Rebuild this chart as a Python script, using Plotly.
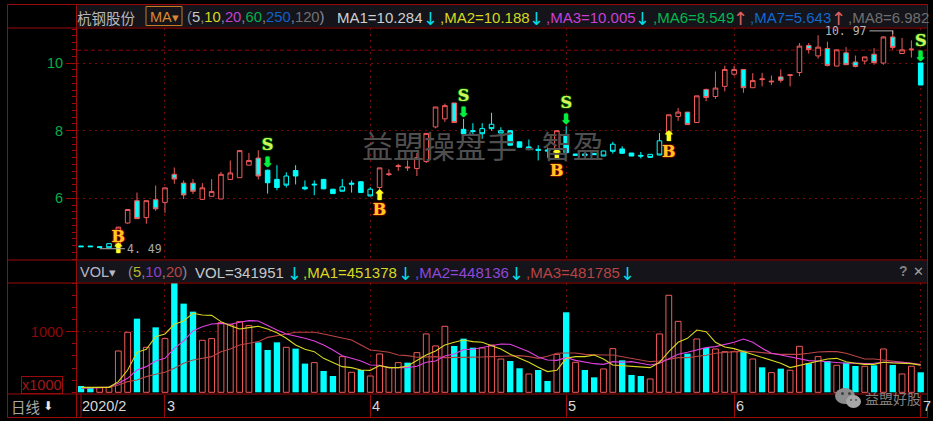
import plotly.graph_objects as go

# ---------- data ----------
body_top = [4.59,4.59,4.57,4.66,5.15,5.67,5.93,5.93,5.96,6.31,6.71,6.45,6.45,6.31,6.20,6.71,6.75,7.41,7.12,7.19,
            6.83,6.56,6.66,6.82,6.33,6.42,6.56,6.27,6.34,6.45,6.49,6.27,6.90,6.72,6.96,6.92,7.20,7.92,8.70,8.74,
            8.82,8.04,8.00,8.06,8.19,8.00,8.00,7.67,7.52,7.45,7.43,8.00,7.86,7.31,7.31,7.33,7.40,7.60,7.46,7.34,
            7.27,7.30,7.70,8.47,8.55,8.55,9.03,9.22,9.26,9.81,9.81,9.81,9.48,9.53,9.46,9.59,9.65,10.50,10.52,10.47,
            10.43,10.39,10.30,10.03,10.18,10.26,10.77,10.77,10.39,10.41,10.00]
body_bot = [4.57,4.57,4.55,4.54,4.62,5.27,5.40,5.43,5.69,5.88,6.57,6.10,6.21,5.97,6.06,5.98,6.56,6.61,6.98,6.66,
            6.46,6.32,6.39,6.66,6.28,6.40,6.28,6.14,6.21,6.42,6.17,6.07,6.32,6.70,6.94,6.90,6.88,7.09,8.11,8.35,
            8.24,7.91,7.98,7.91,8.06,7.93,7.57,7.51,7.49,7.42,7.40,7.42,7.35,7.27,7.27,7.29,7.25,7.39,7.33,7.25,
            7.25,7.21,7.28,7.94,8.42,8.18,8.24,8.98,9.01,9.31,9.67,9.27,9.27,9.51,9.44,9.49,9.63,9.72,10.40,10.21,
            9.93,9.91,9.95,9.90,10.06,10.01,10.00,10.46,10.28,10.39,9.35]
high_p = [4.59,4.59,4.57,4.66,5.15,5.67,6.17,5.93,6.38,6.31,6.91,6.53,6.57,6.45,6.57,6.78,7.12,7.41,7.34,7.42,
          6.85,6.98,6.77,6.98,6.53,6.53,6.57,6.27,6.57,6.53,6.51,6.33,6.90,6.86,7.02,7.12,7.34,7.92,8.70,8.80,
          8.82,8.35,8.22,8.22,8.53,8.10,8.00,7.67,7.74,7.57,7.50,8.00,8.13,7.31,7.31,7.33,7.40,7.67,7.54,7.34,
          7.37,7.30,7.93,8.47,8.67,8.55,9.03,9.24,9.75,9.92,9.91,9.81,9.70,9.71,9.63,9.81,9.65,10.59,10.59,10.82,
          10.63,10.39,10.47,10.22,10.18,10.44,10.79,10.97,10.74,10.67,10.00]
low_p = [4.57,4.57,4.55,4.54,4.49,5.25,5.40,5.25,5.63,5.57,6.43,5.98,6.13,5.95,6.06,5.98,6.54,6.61,6.98,6.56,
         6.14,6.24,6.32,6.41,6.24,6.09,6.27,6.14,6.21,6.17,6.17,6.07,6.24,6.66,6.81,6.81,6.66,7.04,8.07,8.26,
         8.24,7.91,7.90,7.76,8.00,7.93,7.57,7.51,7.42,7.12,7.20,7.42,7.30,7.27,7.27,7.29,7.25,7.32,7.33,7.25,
         7.18,7.21,7.28,7.94,8.29,8.18,8.24,8.87,8.94,9.16,9.62,9.12,9.27,9.31,9.35,9.42,9.31,9.61,10.28,10.13,
         9.90,9.91,9.95,9.87,9.96,9.95,9.95,10.39,10.28,10.16,9.35]
# R red hollow, C cyan filled, H cyan hollow, M red outline cyan fill
candle_kind = list("CCCHRRMRMRMMMRRRRRRM" "CCHCCCCCHCCHRRRRRRRR" "MCCHHHCCCCCRCCCCHHCC"
                   "CHHRRMRMRRRMRRRMRRMR" "MRMMRMRMRRC")

volume = [104,82,82,82,681,989,1214,742,1071,885,1802,1462,1330,857,885,1148,1115,1165,1099,824,
          698,824,742,720,473,489,352,269,588,330,368,269,632,412,489,489,654,962,764,1088,
          764,885,736,731,780,549,516,396,302,368,187,626,1319,495,368,247,385,720,527,286,
          269,220,962,1599,1170,637,879,731,714,670,670,687,549,412,324,390,363,758,478,588,
          516,445,489,434,429,445,714,451,302,429,330]
vol_kind = list("CCRRRRCRCRCCCRRRRRRC" "CCRCCRCCRRCRRRRCRRRR" "CCCRRRCCRCCRCRCCRRCC"
                "CRRRRCRCRRRCRCRCRRCR" "CRCCRCRCRRC")
vol_ma5 = [82,82,82,82,176,368,659,709,918,962,1121,1176,1302,1275,1269,1165,1099,1044,1066,1088,
           1044,983,890,780,709,670,560,495,423,407,368,362,440,407,407,434,527,615,681,780,
           824,863,835,824,769,714,626,560,495,412,341,362,560,588,588,615,549,450,440,418,
           412,407,495,670,824,890,1027,1000,824,747,720,670,626,582,533,478,407,445,478,516,
           549,560,505,478,461,461,495,484,472,472,445]
vol_ma10 = [71,71,77,88,148,231,368,423,516,560,725,846,1011,1082,1126,1137,1121,1154,1181,1176,
            1099,1027,962,929,890,846,780,698,604,560,516,450,445,407,407,407,429,495,516,599,
            632,703,709,742,769,797,791,736,670,582,533,527,571,527,500,472,461,505,495,505,
            478,450,478,549,626,659,698,736,753,791,824,879,824,725,643,615,588,560,522,516,
            505,495,478,484,472,478,495,495,495,478,450]
vol_ma20 = [71,71,77,82,121,176,203,258,297,330,396,478,533,560,588,670,714,780,808,835,
            906,929,962,989,995,989,962,929,890,863,780,698,681,659,615,604,577,577,588,571,
            571,571,577,582,588,593,604,604,588,560,593,643,648,648,626,615,615,615,588,555,
            533,505,516,549,571,571,588,610,643,659,670,670,670,654,637,626,626,626,643,665,
            670,670,643,599,549,549,533,516,505,489,461]

month_idx = [9, 31, 52, 70, 90]
month_labels = ["3", "4", "5", "6", "7"]
first_label = "2020/2"
price_ticks = [10, 8, 6]
vol_ticks = [1000]
ref_price = 10.38

sell_idx = [20, 41, 52, 90]
sell_letter_y = [7.54, 8.99, 8.78, 10.62]
sell_arrow_y = [7.03, 8.50, 8.29, 10.15]
buy_idx = [4, 32, 51, 63]
buy_letter_y = [4.83, 5.62, 6.78, 7.34]
buy_arrow_y = [4.48, 6.06, 7.27, 7.81]

# ---------- style ----------
W, H = 933, 421
RED = "#f05a5a"
CYAN = "#00ffff"
FRAME = "#9a0a0a"
GRID = "#8a0808"
SANS = "Liberation Sans, Arial, sans-serif"
def X(px): return px / W
def Y(py): return 1 - py / H

fig = go.Figure()
styles = {
    "R": (RED, "#000000"),
    "C": (CYAN, CYAN),
    "H": (CYAN, "#000000"),
    "M": (RED, CYAN),
}
for k, (ln, fl) in styles.items():
    idx = [i for i, c in enumerate(candle_kind) if c == k]
    side = dict(line=dict(color=ln, width=1), fillcolor=fl)
    up = k == "R"
    fig.add_trace(go.Candlestick(
        x=idx,
        open=[(body_bot[i] if up else body_top[i]) for i in idx],
        close=[(body_top[i] if up else body_bot[i]) for i in idx],
        high=[high_p[i] for i in idx],
        low=[low_p[i] for i in idx],
        increasing=side, decreasing=side, whiskerwidth=0,
        xaxis="x", yaxis="y", showlegend=False, hoverinfo="skip"))

# volume
idx = [i for i, c in enumerate(vol_kind) if c == "R"]
fig.add_trace(go.Bar(x=idx, y=[volume[i] for i in idx], width=0.62, xaxis="x2", yaxis="y2",
                     marker=dict(color="#000000", line=dict(color=RED, width=1)), hoverinfo="skip"))
idx = [i for i, c in enumerate(vol_kind) if c == "C"]
fig.add_trace(go.Bar(x=idx, y=[volume[i] for i in idx], width=0.68, xaxis="x2", yaxis="y2",
                     marker=dict(color=CYAN, line=dict(width=0)), hoverinfo="skip"))
xs = list(range(len(volume)))
for series, col in [(vol_ma20, "#b84444"), (vol_ma10, "#e040e0"), (vol_ma5, "#d8d820")]:
    fig.add_trace(go.Scatter(x=xs, y=series, mode="lines", xaxis="x2", yaxis="y2",
                             line=dict(color=col, width=1.1), hoverinfo="skip"))

# buy / sell marks
fig.add_trace(go.Scatter(x=sell_idx, y=sell_letter_y, mode="text", text=["<b>S</b>"] * 4, xaxis="x", yaxis="y",
                         textfont=dict(family="DejaVu Serif", size=16, color="#d8f060",
                                       shadow="0 0 1px #00d000, 0 0 1px #00d000, 0 0 2px #00a000"),
                         hoverinfo="skip"))
fig.add_trace(go.Scatter(x=sell_idx, y=sell_arrow_y, mode="text", text=["<b>⬇</b>"] * 4, xaxis="x", yaxis="y",
                         textfont=dict(family="DejaVu Sans", size=14, color="#00f040",
                                       shadow="0 0 1px #00f040, 0 0 1px #00f040"), hoverinfo="skip"))
fig.add_trace(go.Scatter(x=buy_idx, y=buy_letter_y, mode="text", text=["<b>B</b>"] * 4, xaxis="x", yaxis="y",
                         textfont=dict(family="DejaVu Serif", size=16, color="#ffc820",
                                       shadow="0 0 1px #ff2000, 0 0 1px #ff2000, 0 0 2px #ff2000"),
                         hoverinfo="skip"))
fig.add_trace(go.Scatter(x=buy_idx, y=buy_arrow_y, mode="text", text=["<b>⬆</b>"] * 4, xaxis="x", yaxis="y",
                         textfont=dict(family="DejaVu Sans", size=14, color="#ffff20",
                                       shadow="0 0 1px #ffff20, 0 0 1px #ffff20"), hoverinfo="skip"))

# low / high leaders
low_i = low_p.index(min(low_p))
high_i = high_p.index(max(high_p))
fig.add_trace(go.Scatter(x=[low_i - 2, low_i + 0.7], y=[min(low_p) + 0.02] * 2, mode="lines", xaxis="x", yaxis="y",
                         line=dict(color="#b0b0b0", width=1), hoverinfo="skip"))
fig.add_trace(go.Scatter(x=[high_i - 2.5, high_i, high_i], y=[max(high_p) - 0.02, max(high_p) - 0.02, max(high_p) - 0.12],
                         mode="lines", xaxis="x", yaxis="y", line=dict(color="#b0b0b0", width=1), hoverinfo="skip"))

ann = []
def txt(px, py, s, color="#c8c8c8", size=14.5, anchor="left", family=SANS):
    ann.append(dict(x=X(px - 2 if anchor == "left" else px), y=Y(py), xref="paper", yref="paper", text=s,
                    showarrow=False, xanchor=anchor, yanchor="middle",
                    font=dict(family=family, size=size, color=color)))

ann.append(dict(x=low_i + 0.7, y=min(low_p) + 0.02, xref="x", yref="y", text=f"{min(low_p):.2f}".replace(".", ". "),
                showarrow=False, xanchor="left", yanchor="middle",
                font=dict(family="DejaVu Sans Mono", size=11.5, color="#a8a8a8")))
ann.append(dict(x=high_i - 2.5, y=max(high_p) - 0.02, xref="x", yref="y", text=f"{max(high_p):.2f}".replace(".", ". "),
                showarrow=False, xanchor="right", yanchor="middle",
                font=dict(family="DejaVu Sans Mono", size=11.5, color="#b8b8b8")))

# header: title line
def colored(parts):
    return "".join(f'<span style="color:{c}">{t}</span>' for t, c in parts)
txt(77, 17, "杭钢股份", "#b8b8b8", 14.5, family="Noto Sans CJK SC")
txt(150, 17, "MA", "#d98a30", 14.5)
txt(172, 17, "▾", "#d98a30", 13, family="DejaVu Sans")
txt(187, 17, colored([("(", "#8a8a9a"), ("5", "#c8c8c8"), (",", "#8a8a9a"), ("10", "#d8d820"), (",", "#8a8a9a"),
                      ("20", "#c040d0"), (",", "#8a8a9a"), ("60", "#00b050"), (",", "#8a8a9a"), ("250", "#1060c8"),
                      (",", "#8a8a9a"), ("120", "#707070"), (")", "#8a8a9a")]), size=14.8)
txt(337, 17, "MA1=10.284", "#d0d0d0", 15)
txt(440, 17, ",MA2=10.188", "#d8d820", 15)
txt(546, 17, ",MA3=10.005", "#c840d8", 15)
txt(653, 17, ",MA6=8.549", "#00b850", 15)
txt(750, 17, ",MA7=5.643", "#1068d0", 15)
txt(848, 17, ",MA8=6.982", "#707070", 15)
for px, col, glyph in [(430, "#00d8e8", "↓"), (536, "#00d8e8", "↓"), (642, "#00d8e8", "↓"),
                       (740, "#e06060", "↑"), (838, "#e06060", "↑")]:
    txt(px, 18, glyph, col, 18, "center", "DejaVu Sans")

# header: volume line
txt(80, 272, "VOL", "#b8b8c8", 14.5)
txt(109, 272, "▾", "#b8b8c8", 13, family="DejaVu Sans")
txt(128, 272, colored([("(", "#8a8a9a"), ("5", "#b8b830"), (",", "#8a8a9a"), ("10", "#9040c8"), (",", "#8a8a9a"),
                       ("20", "#b84444"), (")", "#8a8a9a")]), size=14.8)
txt(195, 272, "VOL=341951", "#c8c8c8", 15)
txt(303, 272, ",MA1=451378", "#d8d820", 15)
txt(415, 272, ",MA2=448136", "#9048d8", 15)
txt(526, 272, ",MA3=481785", "#b84444", 15)
for px in (294, 405, 516, 627):
    txt(px, 273, "↓", "#00d8e8", 18, "center", "DejaVu Sans")
txt(903, 271, "<b>?</b>", "#808080", 14, "center")
txt(918, 271, "<b>✕</b>", "#a0a0a0", 13, "center", "DejaVu Sans")

# bottom strip
txt(11, 406, "日线", "#a8a8a8", 14.5, family="Noto Sans CJK SC")
txt(48, 406, "⬇", "#e8e8e8", 12, "center", "DejaVu Sans")
txt(82, 406, first_label, "#d8d8d8", 14.5)
for i, lab in zip(month_idx, month_labels):
    ann.append(dict(x=i, y=Y(406), xref="x2", yref="paper", text=lab, showarrow=False, xanchor="left",
                    yanchor="middle", xshift=0, font=dict(family=SANS, size=14.5, color="#d8d8d8")))

# x1000 box
ann.append(dict(x=X(41.5), y=Y(385), xref="paper", yref="paper", text="x1000", showarrow=False, xanchor="center",
                yanchor="middle", bgcolor="#000000", bordercolor=FRAME, borderwidth=1, borderpad=0,
                font=dict(family=SANS, size=14.5, color="#a01818")))

# watermarks
txt(362, 144, "益盟操盘手 - 智盈", "#4e4e4e", 31, family="Noto Sans CJK SC")
txt(865, 398, "益盟好股", "#808080", 14, family="Noto Sans CJK SC")

shapes = []
def rect(x0, y0, x1, y1, **kw):
    shapes.append(dict(type="rect", xref="paper", yref="paper", x0=X(x0), x1=X(x1), y0=Y(y0), y1=Y(y1), **kw))
def hline(x0, x1, y):
    shapes.append(dict(type="line", xref="paper", yref="paper", x0=X(x0), x1=X(x1), y0=Y(y), y1=Y(y),
                       line=dict(color=FRAME, width=1), layer="above"))
def vline(x, y0, y1):
    shapes.append(dict(type="line", xref="paper", yref="paper", x0=X(x), x1=X(x), y0=Y(y0), y1=Y(y1),
                       line=dict(color=FRAME, width=1), layer="above"))
# header backgrounds
rect(78, 5, 927, 27, fillcolor="#14141a", line=dict(width=0), layer="below")
rect(78, 261, 927, 282, fillcolor="#14141a", line=dict(width=0), layer="below")
# frame
rect(7.5, 4.5, 927.5, 417.5, line=dict(color=FRAME, width=1), layer="above")
for yy in (28, 260, 283, 394):
    hline(7.5, 927.5, yy)
vline(76.5, 4.5, 417.5)
rect(146, 6.5, 182, 25.5, line=dict(color="#c87820", width=1), layer="above")
# reference price
shapes.append(dict(type="line", xref="x", yref="y", x0=-0.43, x1=90.78, y0=ref_price, y1=ref_price,
                   line=dict(color=GRID, width=1, dash="4px,3px"), layer="below"))
# first tick in the date strip
shapes.append(dict(type="line", xref="x2", yref="paper", x0=0, x1=0, y0=Y(394), y1=Y(417),
                   line=dict(color=FRAME, width=1), layer="above"))
# wechat logo
for (x0, y0, x1, y1, c) in [(835, 388, 855, 404, "#8c8c8c"), (846, 395, 861, 408, "#a6a6a6"),
                            (841, 392, 844, 395, "#404040"), (848, 392, 851, 395, "#404040"),
                            (850, 399, 852, 401, "#505050"), (855, 399, 857, 401, "#505050")]:
    shapes.append(dict(type="circle", xref="paper", yref="paper", x0=X(x0), x1=X(x1), y0=Y(y0), y1=Y(y1),
                       fillcolor=c, line=dict(width=0), layer="above"))

x_range = [-0.43, 90.78]
grid_x = dict(range=x_range, showgrid=True, griddash="2px,4px", gridcolor="#7a0808", gridwidth=1, zeroline=False,
              tickmode="array", tickvals=month_idx, showticklabels=False, showline=False,
              rangeslider=dict(visible=False), domain=[X(77), X(928)], fixedrange=True)

fig.update_layout(
    width=W, height=H, margin=dict(l=0, r=0, t=0, b=0), autosize=False,
    paper_bgcolor="#000000", plot_bgcolor="#000000", showlegend=False, hovermode=False,
    boxgap=0.3, barmode="overlay",
    xaxis=dict(**grid_x, anchor="y", ticks=""),
    xaxis2=dict(**grid_x, anchor="y2", ticks="outside", ticklen=23, tickcolor=FRAME, tickwidth=1),
    yaxis=dict(domain=[Y(260), Y(28)], range=[4.177, 11.035], tickmode="array", tickvals=price_ticks,
               ticks="outside", ticklen=10, tickcolor=FRAME, tickwidth=1, showgrid=True, griddash="2px,4px",
               gridcolor="#7a0808", zeroline=False, showline=False, anchor="x", fixedrange=True,
               tickfont=dict(family=SANS, size=14.5, color="#00b048"),
               minor=dict(dtick=0.2, ticks="outside", ticklen=4, tickcolor=FRAME, showgrid=False)),
    yaxis2=dict(domain=[Y(394), Y(283)], range=[-28, 1802], tickmode="array", tickvals=vol_ticks,
                ticks="outside", ticklen=10, tickcolor=FRAME, tickwidth=1, showgrid=True, griddash="2px,4px",
                gridcolor="#7a0808", zeroline=False, showline=False, anchor="x2", fixedrange=True,
                tickfont=dict(family=SANS, size=14.5, color="#8a0808"),
                minor=dict(dtick=200, ticks="outside", ticklen=4, tickcolor=FRAME, showgrid=False)),
    annotations=ann, shapes=shapes,
)
fig.write_html("out.html", config=dict(displayModeBar=False),
               post_script="document.body.style.margin='0';document.documentElement.style.overflow='hidden';document.documentElement.style.background='#000';")
